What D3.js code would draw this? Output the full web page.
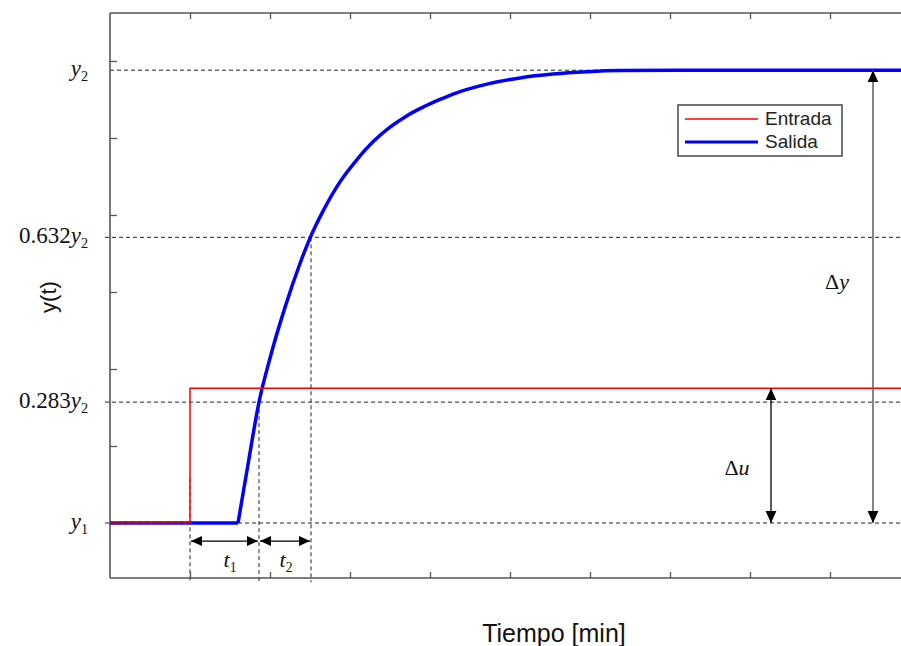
<!DOCTYPE html>
<html><head><meta charset="utf-8">
<script src="https://cdn.jsdelivr.net/npm/d3@7"></script>
<style>body{margin:0;background:#fff} svg{display:block}</style>
</head><body><svg id="c" width="901" height="646"></svg>
<script>
// ---- data ----
const inputT = [0, 1, 1, 10];
const inputV = [0, 0, 1.75, 1.75];
const deadT = [0, 1.6];
const deadV = [0, 0];
const riseT = [1.6, 1.725, 1.8625, 2.0, 2.1875, 2.375, 2.5, 2.6625, 2.875, 3.0875, 3.2875, 3.5, 3.7125, 3.9125, 4.125, 4.2875, 4.7125, 5.125, 5.5375, 5.9625, 6.375, 7.375, 10];
const riseV = [0, 0.76, 1.57, 2.14, 2.80, 3.37, 3.70, 4.05, 4.43, 4.72, 4.95, 5.14, 5.29, 5.40, 5.50, 5.57, 5.70, 5.78, 5.83, 5.86, 5.875, 5.88, 5.88];
const xTicks = [1, 2, 3, 4, 5, 6, 7, 8, 9];
const yTicks = [0, 1, 2, 3, 4, 5, 6];
const levelLabels = [["0.632", "y", "2"], ["0.283", "y", "2"], ["", "y", "2"], ["", "y", "1"]];
const levelValues = [3.71, 1.57, 5.88, 0];
const stepTime = 1, t1End = 1.8625, t2End = 2.5125;
const inputLevel = 1.75, outputLevel = 5.88;
const duTime = 8.2625, dyTime = 9.5375;
const seriesNames = ["Entrada", "Salida"];
const seriesColors = ["#ff0000", "#0000ff"];

// ---- layout ----
const svg = d3.select("#c");
const x = d3.scaleLinear().domain([0, 10]).range([110, 910]);
const y = d3.scaleLinear().domain([-0.714, 6.623]).range([578, 13]);
const axisColor = "#555";
const serif = "'Liberation Serif','Times New Roman',serif";
const sans = "'Liberation Sans',Arial,sans-serif";

// markers
const defs = svg.append("defs");
defs.append("marker").attr("id", "ah").attr("viewBox", "0 0 10 10")
  .attr("refX", 10).attr("refY", 5).attr("markerWidth", 11).attr("markerHeight", 11)
  .attr("markerUnits", "userSpaceOnUse").attr("orient", "auto-start-reverse")
  .append("path").attr("d", "M0,0.5 L10,5 L0,9.5 Z").attr("fill", "#000");
defs.append("marker").attr("id", "ahb").attr("viewBox", "0 0 10 10")
  .attr("refX", 10).attr("refY", 5).attr("markerWidth", 12).attr("markerHeight", 12)
  .attr("markerUnits", "userSpaceOnUse").attr("orient", "auto-start-reverse")
  .append("path").attr("d", "M0,0.5 L10,5 L0,9.5 Z").attr("fill", "#000");

// dashed reference lines (horizontal)
const dash = "4,3";
svg.append("g").selectAll("line").data(levelValues).join("line")
  .attr("x1", (d, i) => i === 2 ? x(0) : x(0) - 5).attr("x2", 901)
  .attr("y1", d => y(d)).attr("y2", d => y(d))
  .attr("stroke", "#222").attr("stroke-width", 1).attr("stroke-dasharray", dash);

// dashed verticals
const vData = [[stepTime, 0.58], [t1End, 1.57], [t2End, 3.71]];
svg.append("g").selectAll("line").data(vData).join("line")
  .attr("x1", d => x(d[0])).attr("x2", d => x(d[0]))
  .attr("y1", d => y(d[1])).attr("y2", y(-0.77))
  .attr("stroke", "#222").attr("stroke-width", 1).attr("stroke-dasharray", dash);

// axes frame
const gTop = svg.append("g").attr("transform", `translate(0,${y(6.623)})`)
  .call(d3.axisBottom(x).tickValues(xTicks).tickSize(6).tickFormat(""));
const gBot = svg.append("g").attr("transform", `translate(0,${y(-0.714)})`)
  .call(d3.axisTop(x).tickValues(xTicks).tickSize(6).tickFormat(""));
const gLeft = svg.append("g").attr("transform", `translate(${x(0)},0)`)
  .call(d3.axisRight(y).tickValues(yTicks).tickSize(7).tickFormat(""));
[gTop, gBot, gLeft].forEach(g => {
  g.select(".domain").attr("stroke", axisColor).attr("stroke-width", 1.6);
  g.selectAll(".tick line").attr("stroke", axisColor).attr("stroke-width", 1.3);
});
gTop.select(".domain").attr("d", `M${x(0)},0H${x(10)}`);
gBot.select(".domain").attr("d", `M${x(0)},0H${x(10)}`);
gLeft.select(".domain").attr("d", `M0,${y(-0.714)}V${y(6.623)}`);

// series
const lineLin = d3.line().x(d => x(d[0])).y(d => y(d[1]));
const lineMono = d3.line().x(d => x(d[0])).y(d => y(d[1])).curve(d3.curveMonotoneX);
svg.append("path").datum(deadT.map((t, i) => [t, deadV[i]])).attr("d", lineLin)
  .attr("fill", "none").attr("stroke", seriesColors[1]).attr("stroke-width", 3.5);
svg.append("path").datum(riseT.map((t, i) => [t, riseV[i]])).attr("d", lineMono)
  .attr("fill", "none").attr("stroke", seriesColors[1]).attr("stroke-width", 3.5)
  .attr("stroke-linejoin", "round");
svg.append("path").datum(inputT.map((t, i) => [t, inputV[i]])).attr("d", lineLin)
  .attr("fill", "none").attr("stroke", seriesColors[0]).attr("stroke-width", 1.5);
svg.append("line").attr("x1", x(0)).attr("x2", x(stepTime)).attr("y1", y(0)).attr("y2", y(0))
  .attr("stroke", "#222").attr("stroke-width", 1).attr("stroke-dasharray", dash).attr("opacity", 0.6);

// arrows
const arrowY = -0.234;
svg.append("line").attr("x1", x(stepTime) + 1).attr("x2", x(t1End) - 1)
  .attr("y1", y(arrowY)).attr("y2", y(arrowY)).attr("stroke", "#000").attr("stroke-width", 1.3)
  .attr("marker-start", "url(#ah)").attr("marker-end", "url(#ah)");
svg.append("line").attr("x1", x(t1End) + 1).attr("x2", x(t2End) - 1)
  .attr("y1", y(arrowY)).attr("y2", y(arrowY)).attr("stroke", "#000").attr("stroke-width", 1.3)
  .attr("marker-start", "url(#ah)").attr("marker-end", "url(#ah)");
svg.append("line").attr("x1", x(duTime)).attr("x2", x(duTime))
  .attr("y1", y(inputLevel)).attr("y2", y(0)).attr("stroke", "#000").attr("stroke-width", 1.3)
  .attr("marker-start", "url(#ahb)").attr("marker-end", "url(#ahb)");
svg.append("line").attr("x1", x(dyTime)).attr("x2", x(dyTime))
  .attr("y1", y(outputLevel)).attr("y2", y(0)).attr("stroke", "#666").attr("stroke-width", 1.6)
  .attr("marker-start", "url(#ahb)").attr("marker-end", "url(#ahb)");

// math labels helper
function mathLabel(px, py, pre, v, sub, anchor, size) {
  const t = svg.append("text").attr("x", px).attr("y", py).attr("text-anchor", anchor)
    .attr("font-family", serif).attr("font-size", size).attr("fill", "#111");
  if (pre) t.append("tspan").text(pre);
  t.append("tspan").attr("font-style", "italic").text(v);
  t.append("tspan").attr("font-size", size * 0.62).attr("dy", size * 0.22).text(sub);
  return t;
}
levelLabels.forEach((l, i) => {
  mathLabel(88, y(levelValues[i]) + 6, l[0], l[1], l[2], "end", 23);
});
mathLabel(230, 567, "", "t", "1", "middle", 22);
mathLabel(286, 567, "", "t", "2", "middle", 22);

function deltaLabel(px, py, v) {
  const t = svg.append("text").attr("x", px).attr("y", py).attr("text-anchor", "middle")
    .attr("font-family", serif).attr("font-size", 22).attr("fill", "#111");
  t.append("tspan").text("Δ");
  t.append("tspan").attr("font-style", "italic").text(v);
}
deltaLabel(837, 289, "y");
deltaLabel(737, 475, "u");

// axis titles
svg.append("text").attr("transform", "translate(56,297) rotate(-90)").attr("text-anchor", "middle")
  .attr("font-family", sans).attr("font-size", 22).attr("fill", "#111").text("y(t)");
svg.append("text").attr("x", 554).attr("y", 642).attr("text-anchor", "middle")
  .attr("font-family", sans).attr("font-size", 25).attr("fill", "#111").text("Tiempo [min]");

// legend
const lg = svg.append("g").attr("transform", "translate(678,105)");
lg.append("rect").attr("width", 164).attr("height", 51).attr("fill", "#fff")
  .attr("stroke", "#444").attr("stroke-width", 1.5);
seriesNames.forEach((n, i) => {
  lg.append("line").attr("x1", 7).attr("x2", 80).attr("y1", 14 + i * 23).attr("y2", 14 + i * 23)
    .attr("stroke", seriesColors[i]).attr("stroke-width", i ? 3 : 1.5);
  lg.append("text").attr("x", 87).attr("y", 20 + i * 23).attr("font-family", sans)
    .attr("font-size", 19).attr("fill", "#222").text(n);
});
</script></body></html>
